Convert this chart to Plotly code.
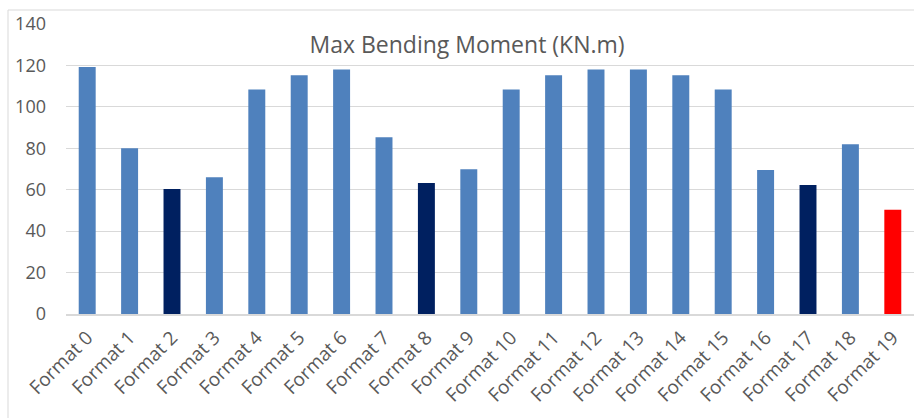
import plotly.graph_objects as go

categories = [f"Format {i}" for i in range(20)]
values = [119.2, 80, 60.4, 66, 108.4, 115.2, 118, 85.3, 63.3, 69.9,
          108.4, 115.2, 118, 118, 115.2, 108.4, 69.5, 62.3, 81.9, 50.3]
bar_colors = ["#4f81bd", "#4f81bd", "#002060", "#4f81bd", "#4f81bd",
              "#4f81bd", "#4f81bd", "#4f81bd", "#002060", "#4f81bd",
              "#4f81bd", "#4f81bd", "#4f81bd", "#4f81bd", "#4f81bd",
              "#4f81bd", "#4f81bd", "#002060", "#4f81bd", "#ff0000"]
y_ticks = [0, 20, 40, 60, 80, 100, 120, 140]
title_text = "Max Bending Moment (KN.m)"

fig = go.Figure(go.Bar(x=categories, y=values, marker=dict(color=bar_colors, line=dict(width=0))))

font_family = "Open Sans, Liberation Sans, sans-serif"
fig.update_layout(
    width=914, height=418,
    margin=dict(l=66, r=0, t=24, b=104),
    paper_bgcolor="white", plot_bgcolor="white",
    bargap=0.6,
    showlegend=False,
    font=dict(family=font_family, color="#595959", size=18),
    title=dict(text=title_text, x=0.511, xanchor="center", y=0.892, yanchor="middle",
               font=dict(size=23, color="#595959", family=font_family)),
    xaxis=dict(tickangle=-45, showgrid=False, showline=True, linecolor="#d9d9d9", linewidth=2,
               ticks="", ticklabelstandoff=3, tickfont=dict(size=19, color="#595959")),
    yaxis=dict(range=[0, 140], tickvals=y_ticks, showgrid=True, gridcolor="#d9d9d9", gridwidth=1,
               zeroline=False, showline=False, ticks="", ticklabelstandoff=19,
               tickfont=dict(size=18, color="#595959")),
    shapes=[dict(type="rect", xref="paper", yref="paper",
                 x0=-58/848, x1=1.05, y0=-0.6, y1=(314-10)/290,
                 line=dict(color="#d9d9d9", width=1), fillcolor="rgba(0,0,0,0)", layer="below")],
)

fig.write_html("out.html", config={"displayModeBar": False},
               post_script="document.body.style.margin='0';")
